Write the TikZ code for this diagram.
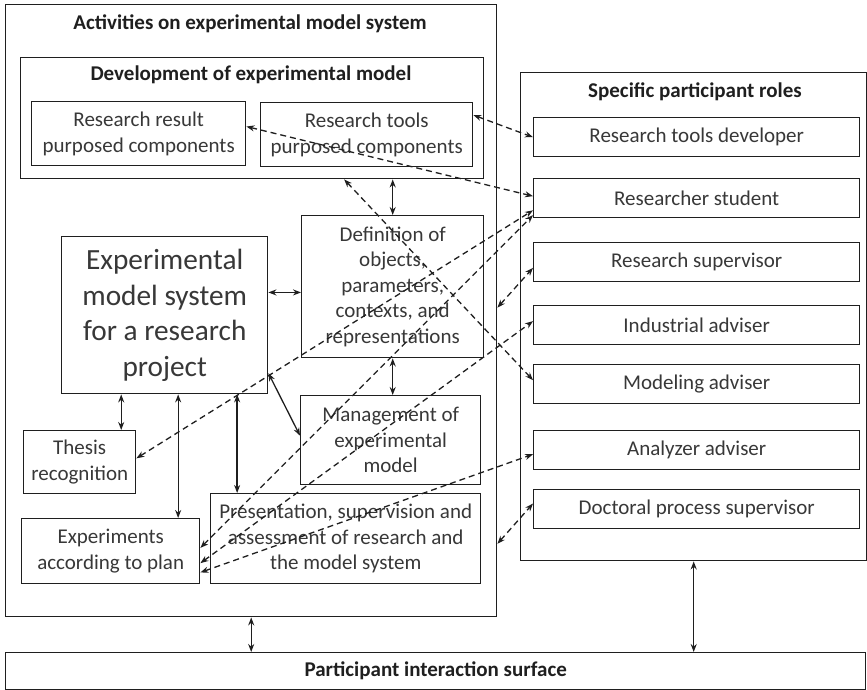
\documentclass[tikz,border=0pt]{standalone}
\usepackage{fontspec}
\setmainfont{Carlito}
\usetikzlibrary{arrows.meta,calc}

\definecolor{ink}{gray}{0.12}
\definecolor{txt}{gray}{0.22}

\begin{document}
\begin{tikzpicture}[x=1pt,y=-1pt,
  box/.style={draw=ink, line width=1.4pt, inner sep=0pt, anchor=north west,
    align=center, text=txt, font=\fontsize{21}{25.6}\selectfont},
  bigtext/.style={font=\fontsize{29.3}{35.5}\selectfont},
  heading/.style={inner sep=0pt, text=ink, font=\fontsize{21}{25.6}\selectfont\bfseries},
  role/.style={box, minimum width=326pt, minimum height=39pt},
  dbl/.style={draw=ink, line width=1.3pt,
    {Stealth[length=8pt,width=6pt]}-{Stealth[length=8pt,width=6pt]}},
  dsh/.style={dbl, dash pattern=on 6pt off 4pt}]

% canvas
\useasboundingbox (0,0) rectangle (867,690);
\fill[white] (0,0) rectangle (867,690);

% activities on the model system
\node[box, minimum width=491pt, minimum height=612pt] (act) at (5,4) {};
\node[heading] (acttitle) at (250,24) {Activities on experimental model system};

\node[box, minimum width=463pt, minimum height=121pt] (dev) at (20,57) {};
\node[heading] (devtitle) at (251,75) {Development of experimental model};
\node[box, minimum width=214pt, minimum height=64pt] (rres) at (31,101)
  {Research result\\purposed components};
\node[box, minimum width=212pt, minimum height=64pt] (rtool) at (260,102)
  {Research tools\\purposed components};

\node[box, minimum width=182pt, minimum height=142pt] (def) at (301,215)
  {Definition of\\objects,\\parameters,\\contexts, and\\representations};
\node[box, bigtext, minimum width=206pt, minimum height=157pt] (ems) at (61,236)
  {Experimental\\model system\\for a research\\project};
\node[box, minimum width=180pt, minimum height=89pt] (mgmt) at (300,395)
  {Management of\\experimental\\model};
\node[box, minimum width=112pt, minimum height=63pt] (thesis) at (23,430)
  {Thesis\\recognition};
\node[box, minimum width=178pt, minimum height=65pt] (exper) at (21,518)
  {Experiments\\according to plan};
\node[box, minimum width=270pt, minimum height=90pt] (pres) at (210,493)
  {Presentation, supervision and\\assessment of research and\\the model system};

% participant roles
\node[box, minimum width=346pt, minimum height=488pt] (roles) at (520,72) {};
\node[heading] (rolestitle) at (695,92) {Specific participant roles};
\node[role] (rtd)    at (533,117) {Research tools developer};
\node[role] (rstud)  at (533,178) {Researcher student};
\node[role] (rsup)   at (533,242) {Research supervisor};
\node[role] (indadv) at (533,305) {Industrial adviser};
\node[role] (model)  at (533,364) {Modeling adviser};
\node[role] (anadv)  at (533,430) {Analyzer adviser};
\node[role] (doc)    at (533,489) {Doctoral process supervisor};

% interaction surface
\node[box, minimum width=860pt, minimum height=37pt] (pis) at (5,652) {};
\node[heading] (pistitle) at (pis.center) {Participant interaction surface};

% solid links
\draw[dbl] (dev.south -| def.north) -- (def.north);
\draw[dbl] (def.south) -- (def.south |- mgmt.north);
\coordinate (emsdef) at ($(def.north west)!0.54!(def.south west)$);
\draw[dbl] (emsdef -| ems.east) -- (emsdef);
\draw[dbl] ($(ems.north east)!0.866!(ems.south east)$) -- ($(mgmt.north west)!0.45!(mgmt.south west)$);
\coordinate (emsthe) at ($(thesis.north west)!0.866!(thesis.north east)$);
\draw[dbl] (emsthe |- ems.south) -- (emsthe);
\coordinate (emsexp) at ($(exper.north west)!0.876!(exper.north east)$);
\draw[dbl] (emsexp |- ems.south) -- (emsexp);
\coordinate (emspre) at ($(pres.north west)!0.1!(pres.north east)$);
\draw[dbl] (emspre |- ems.south) -- (emspre);
\draw[dbl] (act.south) -- (act.south |- pis.north);
\draw[dbl] (roles.south) -- (roles.south |- pis.north);

% dashed links to the roles
\draw[dsh] ($(rtool.north east)!0.2!(rtool.south east)$) -- (rtd.west);
\draw[dsh] ($(rres.north east)!0.39!(rres.south east)$) -- ($(rstud.north west)!0.45!(rstud.south west)$);
\draw[dsh] ($(dev.south west)!0.698!(dev.south east)$) -- ($(model.north west)!0.4!(model.south west)$);
\draw[dsh] ($(thesis.north east)!0.44!(thesis.south east)$) -- ($(rstud.north west)!0.8!(rstud.south west)$);
\draw[dsh] ($(exper.north east)!0.45!(exper.south east)$) -- ($(rstud.north west)!0.92!(rstud.south west)$);
\draw[dsh] ($(exper.north east)!0.68!(exper.south east)$) -- ($(indadv.north west)!0.4!(indadv.south west)$);
\draw[dsh] ($(exper.north east)!0.82!(exper.south east)$) -- ($(anadv.north west)!0.6!(anadv.south west)$);
\draw[dsh] ($(act.north east)!0.495!(act.south east)$) -- ($(rsup.north west)!0.64!(rsup.south west)$);
\draw[dsh] ($(act.north east)!0.88!(act.south east)$) -- ($(doc.north west)!0.36!(doc.south west)$);
\end{tikzpicture}
\end{document}
